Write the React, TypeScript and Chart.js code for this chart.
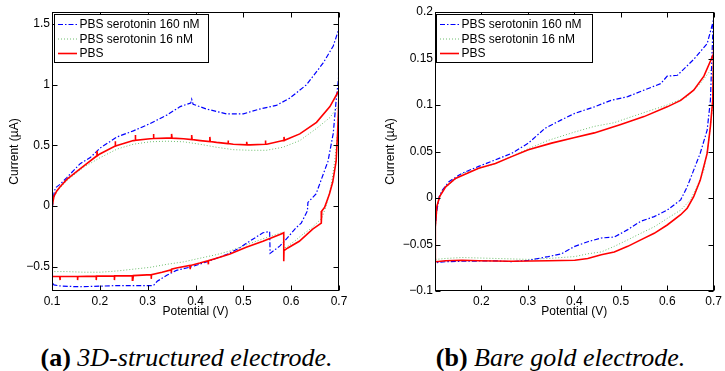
import React, { useEffect, useRef } from "react";
import { Chart, registerables } from "chart.js";
Chart.register(...registerables);

type Pt = [number, number];

// ---------- DATA ----------
const SERIES_LABELS = ["PBS serotonin 160 nM", "PBS serotonin 16 nM", "PBS"];

// (a) 3D-structured electrode : [potential V, current µA], forward then reverse sweep
const A_160: Pt[] = [
  [0.100, -0.62], [0.100, -0.20], [0.101, 0.00], [0.104, 0.10], [0.107, 0.15], [0.117, 0.18],
  [0.131, 0.235], [0.159, 0.35], [0.180, 0.40], [0.201, 0.48], [0.236, 0.57], [0.270, 0.62],
  [0.305, 0.68], [0.340, 0.75], [0.368, 0.82], [0.390, 0.85], [0.392, 0.88], [0.395, 0.84],
  [0.423, 0.80], [0.465, 0.76], [0.500, 0.76], [0.534, 0.80], [0.569, 0.83], [0.597, 0.89],
  [0.632, 1.00], [0.667, 1.18], [0.688, 1.32], [0.698, 1.44], [0.700, 1.46],
  [0.699, 1.05], [0.694, 0.87], [0.688, 0.60], [0.677, 0.37], [0.652, 0.10], [0.635, 0.03],
  [0.634, -0.04], [0.621, -0.14], [0.610, -0.18], [0.586, -0.29], [0.576, -0.33], [0.556, -0.39],
  [0.555, -0.21], [0.541, -0.22], [0.513, -0.29], [0.492, -0.345], [0.465, -0.40], [0.423, -0.46],
  [0.392, -0.50], [0.360, -0.53], [0.340, -0.57], [0.320, -0.62], [0.312, -0.655], [0.270, -0.655],
  [0.236, -0.655], [0.201, -0.66], [0.159, -0.665], [0.120, -0.66], [0.104, -0.65], [0.100, -0.62],
];

const A_16: Pt[] = [
  [0.100, -0.54], [0.100, -0.20], [0.101, 0.00], [0.104, 0.07], [0.110, 0.12], [0.131, 0.21],
  [0.166, 0.32], [0.201, 0.40], [0.236, 0.47], [0.270, 0.51], [0.305, 0.53], [0.340, 0.535],
  [0.375, 0.53], [0.409, 0.51], [0.444, 0.485], [0.479, 0.465], [0.514, 0.46], [0.548, 0.46],
  [0.583, 0.485], [0.618, 0.54], [0.653, 0.64], [0.681, 0.73], [0.698, 0.82], [0.700, 0.83],
  [0.697, 0.60], [0.691, 0.37], [0.684, 0.18], [0.674, 0.01], [0.664, -0.10], [0.643, -0.18],
  [0.622, -0.24], [0.610, -0.28], [0.593, -0.33], [0.585, -0.35], [0.584, -0.215], [0.541, -0.27],
  [0.506, -0.32], [0.472, -0.37], [0.444, -0.40], [0.409, -0.43], [0.375, -0.46], [0.340, -0.48],
  [0.305, -0.505], [0.270, -0.52], [0.236, -0.535], [0.201, -0.545], [0.166, -0.545], [0.131, -0.54],
  [0.110, -0.54], [0.100, -0.54],
];

const A_PBS: Pt[] = [
  [0.100, -0.58], [0.100, -0.30], [0.101, 0.00], [0.104, 0.08], [0.110, 0.125], [0.117, 0.16],
  [0.131, 0.22], [0.150, 0.28], [0.166, 0.33], [0.194, 0.415], [0.194, 0.455], [0.195, 0.415],
  [0.200, 0.43], [0.232, 0.495], [0.232, 0.535], [0.233, 0.495], [0.236, 0.50], [0.270, 0.54],
  [0.274, 0.542], [0.274, 0.585], [0.275, 0.542], [0.305, 0.555], [0.312, 0.557], [0.312, 0.595],
  [0.313, 0.557], [0.340, 0.56], [0.350, 0.56], [0.350, 0.595], [0.351, 0.56], [0.375, 0.555],
  [0.392, 0.548], [0.392, 0.585], [0.393, 0.548], [0.410, 0.54], [0.430, 0.532], [0.430, 0.57],
  [0.431, 0.532], [0.444, 0.525], [0.468, 0.515], [0.468, 0.54], [0.469, 0.515], [0.479, 0.51],
  [0.507, 0.505], [0.507, 0.53], [0.508, 0.505], [0.514, 0.505], [0.546, 0.51], [0.546, 0.54],
  [0.547, 0.51], [0.549, 0.51], [0.583, 0.54], [0.585, 0.542], [0.585, 0.57], [0.586, 0.542],
  [0.618, 0.595], [0.653, 0.69], [0.681, 0.82], [0.698, 0.94], [0.700, 0.95],
  [0.699, 0.80], [0.697, 0.60], [0.694, 0.37], [0.687, 0.20], [0.680, 0.10], [0.670, -0.01],
  [0.664, -0.04], [0.663, -0.14], [0.645, -0.19], [0.617, -0.29], [0.593, -0.345], [0.585, -0.367],
  [0.585, -0.455], [0.584, -0.22], [0.579, -0.23], [0.541, -0.29], [0.506, -0.34], [0.472, -0.395],
  [0.444, -0.43], [0.427, -0.45], [0.427, -0.48], [0.426, -0.45], [0.409, -0.47], [0.389, -0.49],
  [0.389, -0.52], [0.388, -0.49], [0.360, -0.51], [0.350, -0.52], [0.350, -0.55], [0.349, -0.525],
  [0.330, -0.545], [0.308, -0.565], [0.308, -0.60], [0.307, -0.565], [0.270, -0.573], [0.269, -0.61],
  [0.268, -0.573], [0.231, -0.575], [0.231, -0.61], [0.230, -0.575], [0.193, -0.577], [0.193, -0.61],
  [0.192, -0.577], [0.154, -0.58], [0.154, -0.61], [0.153, -0.58], [0.117, -0.58], [0.117, -0.61],
  [0.116, -0.58], [0.100, -0.58],
];

// (b) Bare gold electrode
const B_160: Pt[] = [
  [0.100, -0.070], [0.100, -0.034], [0.103, -0.017], [0.109, 0.0014], [0.116, 0.0086], [0.130, 0.0176],
  [0.158, 0.0266], [0.194, 0.034], [0.230, 0.041], [0.265, 0.048], [0.301, 0.059], [0.337, 0.075],
  [0.372, 0.084], [0.401, 0.091], [0.443, 0.098], [0.479, 0.105], [0.515, 0.109], [0.550, 0.116],
  [0.586, 0.123], [0.600, 0.131], [0.622, 0.132], [0.657, 0.149], [0.686, 0.166], [0.699, 0.190],
  [0.693, 0.105], [0.686, 0.073], [0.671, 0.048], [0.657, 0.030], [0.643, 0.012], [0.629, -0.002],
  [0.600, -0.013], [0.572, -0.020], [0.543, -0.025], [0.515, -0.034], [0.486, -0.042], [0.458, -0.043],
  [0.429, -0.047], [0.401, -0.052], [0.372, -0.060], [0.344, -0.063], [0.301, -0.067], [0.265, -0.0685],
  [0.230, -0.0675], [0.158, -0.068], [0.123, -0.0685], [0.1014, -0.0696], [0.100, -0.070],
];

const B_16: Pt[] = [
  [0.100, -0.066], [0.100, -0.038], [0.105, -0.006], [0.116, 0.0086], [0.158, 0.026], [0.230, 0.037],
  [0.301, 0.053], [0.344, 0.062], [0.401, 0.071], [0.443, 0.077], [0.486, 0.081], [0.515, 0.086],
  [0.557, 0.093], [0.600, 0.100], [0.643, 0.109], [0.671, 0.123], [0.699, 0.141],
  [0.697, 0.095], [0.689, 0.059], [0.679, 0.030], [0.664, 0.012], [0.650, -0.002], [0.629, -0.013],
  [0.600, -0.022], [0.572, -0.031], [0.543, -0.038], [0.515, -0.045], [0.486, -0.052], [0.458, -0.058],
  [0.429, -0.060], [0.401, -0.063], [0.344, -0.065], [0.301, -0.066], [0.230, -0.065], [0.158, -0.064],
  [0.123, -0.065], [0.1014, -0.066], [0.100, -0.066],
];

const B_PBS: Pt[] = [
  [0.100, -0.068], [0.100, -0.060], [0.1014, -0.031], [0.104, -0.009], [0.110, 0.0014], [0.123, 0.012],
  [0.144, 0.021], [0.194, 0.032], [0.230, 0.037], [0.265, 0.0445], [0.301, 0.052], [0.351, 0.059],
  [0.401, 0.065], [0.443, 0.070], [0.500, 0.079], [0.550, 0.0875], [0.600, 0.098], [0.629, 0.105],
  [0.657, 0.116], [0.679, 0.131], [0.699, 0.154], [0.700, 0.162],
  [0.698, 0.105], [0.693, 0.077], [0.686, 0.048], [0.671, 0.019], [0.657, 0.0014], [0.643, -0.011],
  [0.629, -0.018], [0.600, -0.029], [0.572, -0.038], [0.543, -0.045], [0.515, -0.052], [0.486, -0.058],
  [0.458, -0.061], [0.429, -0.065], [0.401, -0.067], [0.344, -0.0675], [0.265, -0.068], [0.194, -0.0675],
  [0.158, -0.067], [0.123, -0.0675], [0.1014, -0.0685], [0.100, -0.068],
];

const X_RANGE = [0.1, 0.7];
const A_Y_RANGE = [-0.7, 1.6];
const B_Y_RANGE = [-0.1, 0.2];
const A_X_TICKS = [0.1, 0.2, 0.3, 0.4, 0.5, 0.6, 0.7];
const A_Y_TICKS = [-0.5, 0, 0.5, 1, 1.5];
const B_X_TICKS = [0.2, 0.3, 0.4, 0.5, 0.6, 0.7];
const B_Y_TICKS = [-0.1, -0.05, 0, 0.05, 0.1, 0.15, 0.2];
const X_TITLE = "Potential (V)";
const Y_TITLE = "Current (\u00b5A)";

// ---------- STYLE ----------
const FONT = '"Liberation Sans", Arial, Helvetica, sans-serif';
const STYLES = [
  { color: "#0000ff", width: 1.2, dash: [5, 2, 1.5, 2], order: 1 },
  { color: "rgb(110,190,110)", width: 1, dash: [1, 2], order: 2 },
  { color: "#ff0000", width: 1.6, dash: [] as number[], order: 0 },
];

function fmt(v: number) {
  const s = String(Math.round(v * 1000) / 1000);
  return s.startsWith("-") ? "\u2212" + s.slice(1) : s;
}

interface PanelProps {
  series: Pt[][];
  xTicks: number[];
  yTicks: number[];
  yRange: number[];
  yAxisWidth: number;
  yTitlePad: number;
  rightPad: number;
  legend: { x: number; y: number; w: number; h: number };
  left: number;
  width: number;
  height: number;
}

function Panel(p: PanelProps) {
  const ref = useRef<HTMLCanvasElement>(null);
  useEffect(() => {
    if (!ref.current) return;
    const framePlugin = {
      id: "matlabFrame",
      afterDraw(chart: any) {
        const { ctx, chartArea: a, scales } = chart;
        ctx.save();
        ctx.setLineDash([]);
        ctx.strokeStyle = "#000";
        ctx.lineWidth = 1;
        const L = Math.round(a.left) + 0.5;
        const R = Math.round(a.right) - 0.5;
        const T = Math.round(a.top) + 0.5;
        const B = Math.round(a.bottom) - 0.5;
        ctx.strokeRect(L, T, R - L, B - T);
        const tl = 5;
        ctx.beginPath();
        p.xTicks.forEach((v) => {
          const px = Math.round(scales.x.getPixelForValue(v)) + 0.5;
          ctx.moveTo(px, B); ctx.lineTo(px, B - tl);
          ctx.moveTo(px, T); ctx.lineTo(px, T + tl);
        });
        p.yTicks.forEach((v) => {
          const py = Math.round(scales.y.getPixelForValue(v)) + 0.5;
          ctx.moveTo(L, py); ctx.lineTo(L + tl, py);
          ctx.moveTo(R, py); ctx.lineTo(R - tl, py);
        });
        ctx.stroke();
        // legend
        const lg = p.legend;
        ctx.fillStyle = "#fff";
        ctx.fillRect(lg.x, lg.y, lg.w, lg.h);
        ctx.strokeStyle = "#000";
        ctx.lineWidth = 1;
        ctx.strokeRect(lg.x + 0.5, lg.y + 0.5, lg.w, lg.h);
        const rows = [10, 24.5, 39];
        SERIES_LABELS.forEach((lab, i) => {
          const st = STYLES[i];
          const yy = lg.y + rows[i] + 0.5;
          ctx.beginPath();
          ctx.strokeStyle = st.color;
          ctx.lineWidth = st.width;
          ctx.setLineDash(st.dash);
          ctx.moveTo(lg.x + 4, yy);
          ctx.lineTo(lg.x + 23, yy);
          ctx.stroke();
          ctx.setLineDash([]);
          ctx.fillStyle = "#000";
          ctx.font = `12px ${FONT}`;
          ctx.textBaseline = "middle";
          ctx.textAlign = "left";
          ctx.fillText(lab, lg.x + 25.5, lg.y + rows[i] + 1);
        });
        ctx.restore();
      },
    };
    const tickFont = { family: FONT, size: 12 };
    const chart = new Chart(ref.current, {
      type: "scatter",
      data: {
        datasets: p.series.map((d, i) => ({
          label: SERIES_LABELS[i],
          data: d.map(([x, y]) => ({ x, y })),
          showLine: true,
          borderColor: STYLES[i].color,
          backgroundColor: STYLES[i].color,
          borderWidth: STYLES[i].width,
          borderDash: STYLES[i].dash,
          pointRadius: 0,
          pointHoverRadius: 0,
          fill: false,
          tension: 0,
          order: STYLES[i].order,
        })),
      },
      options: {
        responsive: false,
        animation: false,
        devicePixelRatio: 1,
        layout: { padding: { top: 12, right: p.rightPad, left: 0, bottom: 0 } },
        plugins: { legend: { display: false }, tooltip: { enabled: false } },
        scales: {
          x: {
            type: "linear",
            min: X_RANGE[0],
            max: X_RANGE[1],
            afterBuildTicks: (s: any) => { s.ticks = p.xTicks.map((v) => ({ value: v })); },
            afterFit: (s: any) => { s.height = 29; },
            grid: { display: false, drawTicks: false },
            border: { display: false },
            ticks: { padding: 3, color: "#000", font: tickFont, autoSkip: false, maxRotation: 0, callback: (v: any) => fmt(Number(v)) },
            title: { display: true, text: X_TITLE, color: "#000", font: tickFont, padding: { top: 0, bottom: 1 } },
          },
          y: {
            type: "linear",
            min: p.yRange[0],
            max: p.yRange[1],
            afterBuildTicks: (s: any) => { s.ticks = p.yTicks.map((v) => ({ value: v })); },
            afterFit: (s: any) => { s.width = p.yAxisWidth; },
            grid: { display: false, drawTicks: false },
            border: { display: false },
            ticks: { padding: 2, color: "#000", font: tickFont, autoSkip: false, callback: (v: any) => fmt(Number(v)) },
            title: { display: true, text: Y_TITLE, color: "#000", font: tickFont, padding: { top: p.yTitlePad, bottom: 0 } },
          },
        },
      } as any,
      plugins: [framePlugin],
    });
    return () => chart.destroy();
  }, []);
  return (
    <canvas
      ref={ref}
      width={p.width}
      height={p.height}
      style={{ position: "absolute", left: p.left, top: 0, width: p.width, height: p.height }}
    />
  );
}

const captionStyle: React.CSSProperties = {
  position: "absolute",
  top: 345,
  width: 400,
  textAlign: "center",
  fontFamily: '"Liberation Serif", "Times New Roman", Times, serif',
  fontSize: 26,
  lineHeight: "26px",
  color: "#000",
  whiteSpace: "nowrap",
};

export default function App() {
  return (
    <div style={{ position: "fixed", left: 0, top: 0, width: 725, height: 371, background: "#fff", overflow: "hidden" }}>
      <Panel
        series={[A_160, A_16, A_PBS]}
        xTicks={A_X_TICKS}
        yTicks={A_Y_TICKS}
        yRange={A_Y_RANGE}
        yAxisWidth={52}
        yTitlePad={7}
        rightPad={23}
        legend={{ x: 54, y: 14, w: 154, h: 48 }}
        left={0}
        width={362}
        height={320}
      />
      <Panel
        series={[B_160, B_16, B_PBS]}
        xTicks={B_X_TICKS}
        yTicks={B_Y_TICKS}
        yRange={B_Y_RANGE}
        yAxisWidth={73}
        yTitlePad={21}
        rightPad={10}
        legend={{ x: 74, y: 14, w: 156, h: 48 }}
        left={362}
        width={363}
        height={320}
      />
      <div style={{ ...captionStyle, left: 186.5 - 200 }}>
        <b>(a)</b> <i>3D-structured electrode.</i>
      </div>
      <div style={{ ...captionStyle, left: 560.5 - 200 }}>
        <b>(b)</b> <i>Bare gold electrode.</i>
      </div>
    </div>
  );
}
